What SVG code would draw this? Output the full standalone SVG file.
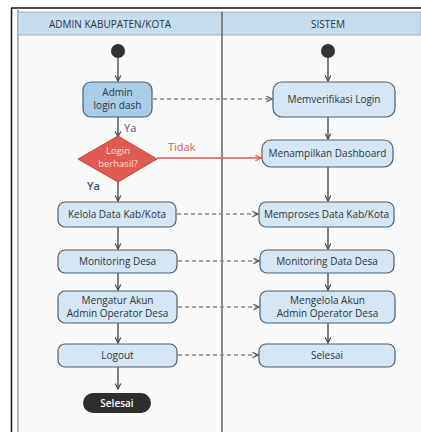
<svg xmlns="http://www.w3.org/2000/svg" width="421" height="432" viewBox="0 0 421 432">
  <style>
    .hdr { font-family: "Open Sans", "DejaVu Sans", sans-serif; font-size: 10px; fill: #2b3440; text-anchor: middle; }
    .lbl { font-family: "Open Sans", "DejaVu Sans", sans-serif; font-size: 10px; fill: #2b3440; text-anchor: middle; }
    .dia { font-family: "Open Sans", "DejaVu Sans", sans-serif; font-size: 9.5px; fill: #fbe3e0; text-anchor: middle; }
    .act { fill: #d5e7f4; stroke: #4d5e6e; stroke-width: 1.2; }
    .act-dark { fill: #a8cde8; stroke: #4d5e6e; stroke-width: 1.2; }
    .flow { stroke: #404040; stroke-width: 1.3; fill: none; marker-end: url(#open); }
    .msg { stroke: #8a8a8a; stroke-width: 1.3; stroke-dasharray: 4 3; fill: none; marker-end: url(#openGray); }
    .yes { font-family: "Open Sans", "DejaVu Sans", sans-serif; font-size: 11px; fill: #3b5a78; }
  </style>
  <defs>
    <marker id="open" viewBox="0 0 10 10" refX="9" refY="5" markerWidth="7" markerHeight="7" orient="auto" markerUnits="userSpaceOnUse">
      <path d="M1,1 L9,5 L1,9" fill="none" stroke="#404040" stroke-width="1.6"/>
    </marker>
    <marker id="openGray" viewBox="0 0 10 10" refX="9" refY="5" markerWidth="7" markerHeight="7" orient="auto" markerUnits="userSpaceOnUse">
      <path d="M1,1 L9,5 L1,9" fill="none" stroke="#555" stroke-width="1.6"/>
    </marker>
    <marker id="openRed" viewBox="0 0 10 10" refX="9" refY="5" markerWidth="7" markerHeight="7" orient="auto" markerUnits="userSpaceOnUse">
      <path d="M1,1 L9,5 L1,9" fill="none" stroke="#e0564c" stroke-width="1.6"/>
    </marker>
  </defs>

  <!-- frame and swimlanes -->
  <g id="frame">
    <rect x="0" y="0" width="421" height="432" fill="#ffffff"/>
    <rect x="18" y="12" width="403" height="420" fill="#fafafa"/>
    <line x1="11" y1="8" x2="421" y2="8" stroke="#111" stroke-width="1.5"/>
    <line x1="11.5" y1="8" x2="11.5" y2="432" stroke="#111" stroke-width="1.5"/>
    <line x1="18" y1="8" x2="18" y2="432" stroke="#888" stroke-width="1.2"/>
    <rect x="18" y="12" width="403" height="23" fill="#c6ddf0" stroke="#8aa4bb" stroke-width="0.8"/>
    <line x1="222" y1="12" x2="222" y2="432" stroke="#666" stroke-width="1.5"/>
    <text class="hdr" x="110" y="27.5">ADMIN KABUPATEN/KOTA</text>
    <text class="hdr" x="328" y="27.5">SISTEM</text>
  </g>

  <!-- connectors -->
  <g id="connectors">
    <line class="flow" x1="118" y1="58" x2="118" y2="81"/>
    <line class="flow" x1="118" y1="117" x2="118" y2="137"/>
    <line class="flow" x1="118" y1="182" x2="118" y2="201"/>
    <line class="flow" x1="118" y1="227" x2="118" y2="249"/>
    <line class="flow" x1="118" y1="273" x2="118" y2="290"/>
    <line class="flow" x1="118" y1="323" x2="118" y2="343"/>
    <line class="flow" x1="118" y1="367" x2="118" y2="389"/>

    <line class="flow" x1="328" y1="58" x2="328" y2="81"/>
    <line class="flow" x1="328" y1="117" x2="328" y2="139"/>
    <line class="flow" x1="328" y1="167" x2="328" y2="201"/>
    <line class="flow" x1="328" y1="227" x2="328" y2="249"/>
    <line class="flow" x1="328" y1="273" x2="328" y2="290"/>
    <line class="flow" x1="328" y1="323" x2="328" y2="343"/>

    <line class="msg" x1="153" y1="99" x2="272" y2="99"/>
    <line class="msg" x1="177" y1="214" x2="258" y2="214"/>
    <line class="msg" x1="178" y1="261" x2="259" y2="261"/>
    <line class="msg" x1="178" y1="307" x2="259" y2="307"/>
    <line class="msg" x1="178" y1="355" x2="258" y2="355"/>

    <line x1="157" y1="158" x2="261" y2="158" stroke="#e0564c" stroke-width="1.3" marker-end="url(#openRed)"/>
    <text x="168" y="151" font-family="Open Sans, DejaVu Sans, sans-serif" font-size="11" fill="#e0564c">Tidak</text>
    <text class="yes" x="124" y="132">Ya</text>
    <text class="yes" x="87" y="190" font-weight="600">Ya</text>
  </g>

  <!-- admin lane -->
  <g id="start-admin"><circle cx="118" cy="51" r="7" fill="#333"/></g>
  <g id="admin-login">
    <rect class="act-dark" x="83" y="82" width="69" height="35" rx="8"/>
    <text class="lbl" x="117.5" y="96">Admin</text>
    <text class="lbl" x="117.5" y="108.5">login dash</text>
  </g>
  <g id="login-check">
    <polygon points="118,136 157,159 118,182 78,159" fill="#e15a50" stroke="#c9453c" stroke-width="1"/>
    <text class="dia" x="118" y="154">Login</text>
    <text class="dia" x="118" y="166.5">berhasil?</text>
  </g>
  <g id="kelola-data">
    <rect class="act" x="58" y="202" width="118" height="25" rx="7"/>
    <text class="lbl" x="117" y="217.5">Kelola Data Kab/Kota</text>
  </g>
  <g id="monitoring-desa">
    <rect class="act" x="58" y="250" width="119" height="23" rx="7"/>
    <text class="lbl" x="117.5" y="265">Monitoring Desa</text>
  </g>
  <g id="mengatur-akun">
    <rect class="act" x="58" y="291" width="119" height="32" rx="7"/>
    <text class="lbl" x="117.5" y="304">Mengatur Akun</text>
    <text class="lbl" x="117.5" y="316.5">Admin Operator Desa</text>
  </g>
  <g id="logout">
    <rect class="act" x="58" y="344" width="119" height="23" rx="7"/>
    <text class="lbl" x="117.5" y="359">Logout</text>
  </g>
  <g id="end-admin">
    <rect x="83" y="393" width="68" height="20" rx="10" fill="#2e2e2e"/>
    <text class="lbl" x="117" y="406.5" style="fill:#ffffff;font-weight:600">Selesai</text>
  </g>

  <!-- system lane -->
  <g id="start-system"><circle cx="328" cy="51" r="7" fill="#333"/></g>
  <g id="verifikasi-login">
    <rect class="act" x="273" y="82" width="122" height="35" rx="9"/>
    <text class="lbl" x="334" y="103">Memverifikasi Login</text>
  </g>
  <g id="tampil-dashboard">
    <rect class="act" x="262" y="140" width="131" height="27" rx="9"/>
    <text class="lbl" x="327.5" y="157">Menampilkan Dashboard</text>
  </g>
  <g id="proses-data">
    <rect class="act" x="259" y="202" width="135" height="25" rx="7"/>
    <text class="lbl" x="326.5" y="218">Memproses Data Kab/Kota</text>
  </g>
  <g id="monitoring-data-desa">
    <rect class="act" x="260" y="250" width="134" height="23" rx="7"/>
    <text class="lbl" x="327" y="265">Monitoring Data Desa</text>
  </g>
  <g id="kelola-akun">
    <rect class="act" x="260" y="291" width="135" height="32" rx="7"/>
    <text class="lbl" x="327.5" y="304">Mengelola Akun</text>
    <text class="lbl" x="327.5" y="316.5">Admin Operator Desa</text>
  </g>
  <g id="end-system">
    <rect class="act" x="259" y="344" width="136" height="23" rx="7"/>
    <text class="lbl" x="327" y="359">Selesai</text>
  </g>
</svg>
